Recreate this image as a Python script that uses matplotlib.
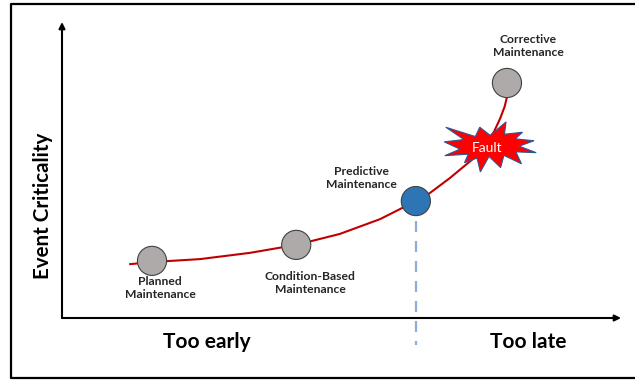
import matplotlib
matplotlib.use('Agg')
from matplotlib import pyplot as plt
from matplotlib import transforms
from matplotlib.lines import Line2D
from matplotlib.patches import Polygon

plt.rcParams['font.family'] = ['Lato', 'DejaVu Sans']

# maintenance strategies along the timing axis (0 = too early, 10 = too late)
labels = ['Planned\nMaintenance', 'Condition-Based\nMaintenance',
          'Predictive\nMaintenance', 'Corrective\nMaintenance']
timing = [1.61, 4.19, 6.33, 7.96]
criticality = [1.93, 2.47, 3.95, 7.94]
face_colors = ['#aeaaaa', '#aeaaaa', '#2e75b6', '#aeaaaa']

# criticality curve
curve_x = [1.22, 1.61, 2.47, 3.36, 4.19, 4.97, 5.69, 6.33, 6.58, 6.94, 7.33, 7.57, 7.73, 7.84, 7.92, 7.96]
curve_y = [1.82, 1.89, 1.99, 2.20, 2.47, 2.84, 3.34, 3.95, 4.22, 4.73, 5.34, 5.84, 6.30, 6.75, 7.15, 7.47]

fault_x, fault_y = 7.66, 5.78

# Office "explosion" shape, 21600 units box
seal = [(10800, 5800), (14522, 0), (14155, 5325), (18380, 4457), (16702, 7315),
        (21097, 8137), (17607, 10475), (21600, 13290), (16837, 12942), (18145, 18095),
        (14020, 14457), (13247, 19737), (10532, 14935), (8485, 21600), (7715, 15627),
        (4762, 17617), (5667, 13937), (135, 14587), (3722, 11775), (0, 8615),
        (4627, 7617), (370, 2295), (7312, 6320), (8352, 2295)]

W, H = 635, 380
fig = plt.figure(figsize=(W / 100, H / 100), dpi=100)
ax = fig.add_axes([62 / W, 62 / H, 559 / W, 296 / H])
ax.set_xlim(0, 10)
ax.set_ylim(0, 10)
ax.axis('off')

# frame around the slide (left, top, bottom only)
fig.add_artist(Line2D([1.01, 11 / W, 11 / W, 1.01],
                      [376 / H, 376 / H, 2 / H, 2 / H],
                      transform=fig.transFigure, color='black', lw=1.6))

# axes with arrow heads
arrow = dict(arrowstyle='-|>', color='black', lw=1.5, mutation_scale=9, shrinkA=0, shrinkB=0)
ax.annotate('', xy=(1, 0), xytext=(0, 0), xycoords='axes fraction', arrowprops=arrow)
ax.annotate('', xy=(0, 1), xytext=(0, 0), xycoords='axes fraction', arrowprops=arrow)

# dashed drop from predictive point
ax.plot([timing[2], timing[2]], [criticality[2], -0.9], color='#8faadc', lw=1.6,
        dashes=(5, 4), clip_on=False, zorder=1)

ax.plot(curve_x, curve_y, color='#c00000', lw=1.5, solid_joinstyle='round', zorder=2)

# fault explosion
trans = fig.dpi_scale_trans + transforms.ScaledTranslation(fault_x, fault_y, ax.transData)
star = [((px - 10800) / 21600 * 0.92, -(py - 10800) / 21600 * 0.50) for px, py in seal]
ax.add_patch(Polygon(star, closed=True, transform=trans, facecolor='#ff0000',
                     edgecolor='#2f5597', lw=0.8, zorder=3))
ax.text(fault_x - 0.05, fault_y - 0.03, 'Fault', color='white', fontsize=10,
        ha='center', va='center', zorder=4)

ax.scatter(timing, criticality, s=440, c=face_colors, edgecolors='#404040',
           linewidths=0.8, zorder=5)

offsets = [(8, -27), (14, -38), (-54, 23), (21, 37)]
for lab, x, y, off in zip(labels, timing, criticality, offsets):
    ax.annotate(lab, xy=(x, y), xytext=off, textcoords='offset pixels',
                ha='center', va='center', fontsize=8.7, fontweight='bold',
                color='#262626', linespacing=1.25)

fig.text(207 / W, 1 - 342 / H, 'Too early', ha='center', va='center',
         fontsize=15, fontweight='bold')
fig.text(528 / W, 1 - 342 / H, 'Too late', ha='center', va='center',
         fontsize=15, fontweight='bold')
fig.text(43 / W, 1 - 206 / H, 'Event Criticality', ha='center', va='center',
         rotation=90, fontsize=14.8, fontweight='bold')

fig.savefig('out.png', dpi=100)
